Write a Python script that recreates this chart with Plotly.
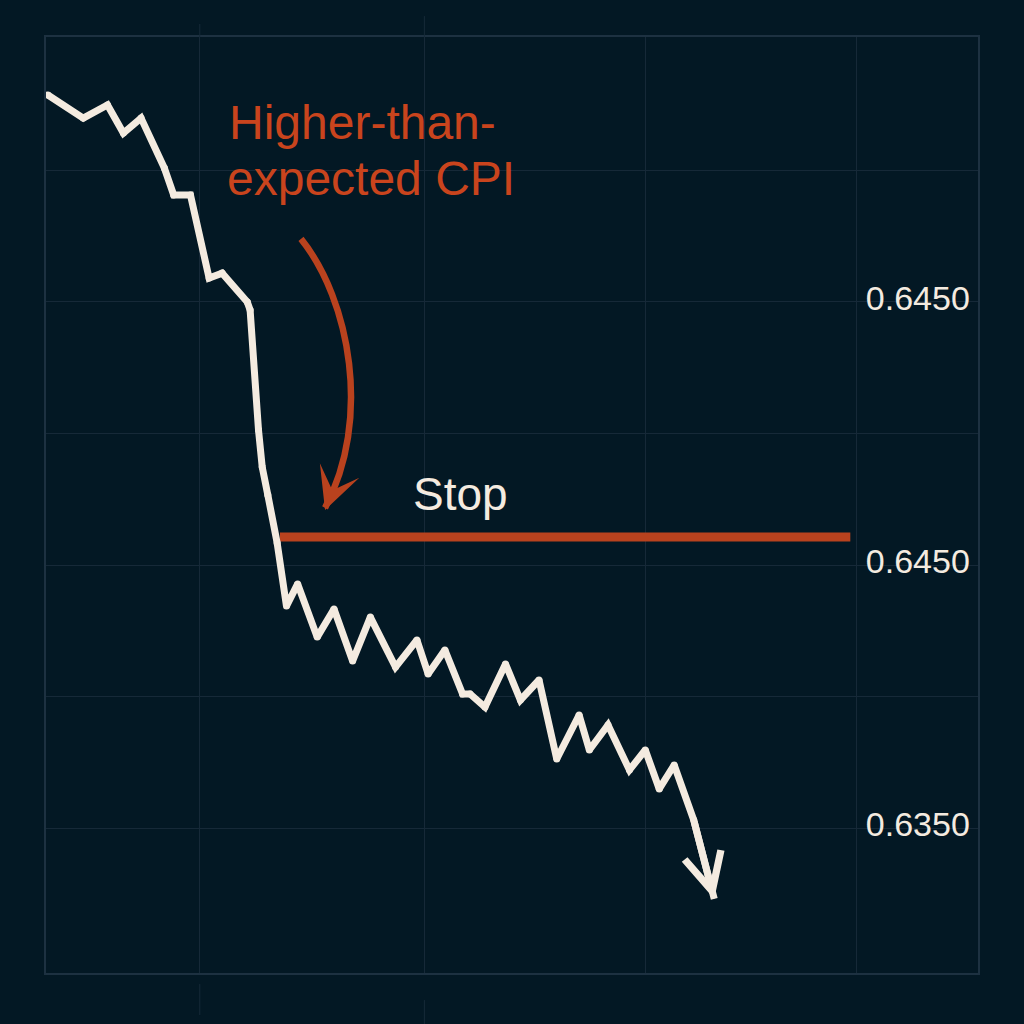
import plotly.graph_objects as go

# ---- data ----
time_x = [0.2, 4.0, 6.6, 8.3, 10.2, 12.7, 13.7, 15.5, 17.5, 18.9, 21.6, 21.9, 22.8, 23.2, 23.8,
          24.8, 25.8, 27.0, 29.1, 30.9, 32.9, 34.8, 37.5, 39.8, 41.0, 42.8, 44.7, 45.5, 47.1,
          49.3, 50.9, 52.9, 54.8, 57.2, 58.3, 60.3, 62.6, 64.3, 65.8, 67.4, 69.5, 71.7]
price = [0.66286, 0.66198, 0.66248, 0.66141, 0.66198, 0.66008, 0.65906, 0.65906, 0.65590,
         0.65609, 0.65499, 0.65469, 0.65013, 0.64872, 0.64766, 0.64584, 0.64344, 0.64428,
         0.64226, 0.64333, 0.64135, 0.64302, 0.64112, 0.64215, 0.64086, 0.64177, 0.64010,
         0.64010, 0.63960, 0.64124, 0.63987, 0.64063, 0.63763, 0.63930, 0.63797, 0.63892,
         0.63721, 0.63797, 0.63649, 0.63740, 0.63531, 0.63231]

stop_level = [0.64606]
stop_x = [25.1, 86.3]

y_tickvals = [0.635, 0.640, 0.645, 0.650, 0.655, 0.660]
y_ticktext = ["0.6350", "", "0.6450", "", "0.6450", ""]
x_tickvals = [16.5, 40.6, 64.3, 87.0]

BG = "#031824"
CREAM = "#F4EBE0"
RED = "#B9421E"
RED_TEXT = "#C9441D"
GRID = "#162938"
FRAME = "#1D3141"

fig = go.Figure()

# stop line
fig.add_trace(go.Scatter(x=stop_x, y=stop_level * 2, mode="lines",
                         line=dict(color=RED, width=9), hoverinfo="skip", showlegend=False))

# price line (markers at vertices give rounded joins)
fig.add_trace(go.Scatter(x=time_x[:-1], y=price[:-1], mode="markers",
                         marker=dict(color=CREAM, size=7, line=dict(width=0)),
                         hoverinfo="skip", showlegend=False))
fig.add_trace(go.Scatter(x=time_x, y=price, mode="lines",
                         line=dict(color=CREAM, width=7, shape="linear"),
                         hoverinfo="skip", showlegend=False))

# arrow head at end of price line
fig.add_annotation(x=time_x[-1], y=price[-1], ax=time_x[-2], ay=price[-2],
                   xref="x", yref="y", axref="x", ayref="y", text="",
                   showarrow=True, arrowhead=5, arrowsize=1.05, arrowwidth=7,
                   arrowcolor=CREAM)

# curved annotation arrow
fig.add_shape(type="path", xref="x", yref="y",
              path="M 27.36,0.65739 C 32.62,0.65507 34.98,0.65051 29.94,0.64717",
              line=dict(color=RED, width=6.5))
fig.add_annotation(x=29.94, y=0.64709, ax=30.69, ay=0.64781,
                   xref="x", yref="y", axref="x", ayref="y", text="",
                   showarrow=True, arrowhead=3, arrowsize=1.4, arrowwidth=5,
                   arrowcolor=RED)

# faint grid stubs beyond the frame
for xv, (t0, t1), (b0, b1) in [(16.5, (1.0, 1.0139), (-0.0118, -0.0449)),
                                (40.6, (1.0, 1.0224), (-0.0289, -0.0545))]:
    fig.add_shape(type="line", xref="x", yref="paper", x0=xv, x1=xv, y0=t0, y1=t1,
                  line=dict(color=GRID, width=1))
    fig.add_shape(type="line", xref="x", yref="paper", x0=xv, x1=xv, y0=b0, y1=b1,
                  line=dict(color=GRID, width=1))

FONT = "Liberation Sans, Arial, sans-serif"
fig.add_annotation(x=19.4, y=0.66181, xref="x", yref="y", text="Higher-than-",
                   showarrow=False, xanchor="left", yanchor="middle",
                   font=dict(family=FONT, size=48, color=RED_TEXT))
fig.add_annotation(x=19.2, y=0.65967, xref="x", yref="y", text="expected CPI",
                   showarrow=False, xanchor="left", yanchor="middle",
                   font=dict(family=FONT, size=48, color=RED_TEXT))
fig.add_annotation(x=44.5, y=0.64770, xref="x", yref="y", text="Stop",
                   showarrow=False, xanchor="center", yanchor="middle",
                   font=dict(family=FONT, size=46, color=CREAM))

fig.update_layout(
    width=1024, height=1024,
    margin=dict(l=46, r=46, t=37, b=51),
    paper_bgcolor=BG, plot_bgcolor=BG,
    showlegend=False,
    xaxis=dict(range=[0, 100], tickvals=x_tickvals, showticklabels=False,
               showgrid=True, gridcolor=GRID, gridwidth=1.2, zeroline=False,
               showline=True, mirror=True, linecolor=FRAME, linewidth=2, ticks=""),
    yaxis=dict(range=[0.629498, 0.665061], tickvals=y_tickvals, ticktext=y_ticktext,
               side="right", ticklabelposition="inside", ticks="",
               ticklabelstandoff=12, ticklabelshift=-4,
               tickfont=dict(family=FONT, size=34, color=CREAM),
               showgrid=True, gridcolor=GRID, gridwidth=1.2, zeroline=False,
               showline=True, mirror=True, linecolor=FRAME, linewidth=2),
)

fig.write_html("out.html", config={"displayModeBar": False},
               post_script="document.body.style.margin='0';"
                           "document.body.style.background='#031824';")
